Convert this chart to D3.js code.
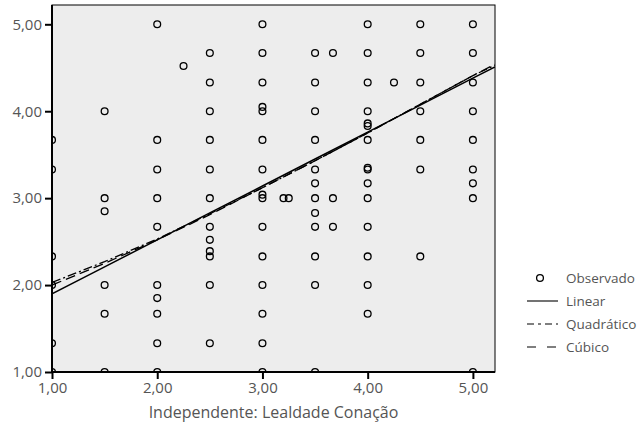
<!DOCTYPE html>
<html><head><meta charset="utf-8">
<script src="https://cdn.jsdelivr.net/npm/d3@7"></script>
<style>
body{margin:0;background:#fff;}
svg text{font-family:"Open Sans","Noto Sans",sans-serif;}
</style></head>
<body>
<svg id="c" width="643" height="429"></svg>
<script>
// Observed points: x values and y values (same order)
const obsX = [
 1,1,1,1,1,1,
 1.5,1.5,1.5,1.5,1.5,1.5,
 2,2,2,2,2,2,2,2,2,2,
 2.25,
 2.5,2.5,2.5,2.5,2.5,2.5,2.5,2.5,2.5,2.5,2.5,2.5,
 3,3,3,3,3,3,3,3,3,3,3,3,3,3,3,
 3.2,3.25,
 3.5,3.5,3.5,3.5,3.5,3.5,3.5,3.5,3.5,3.5,3.5,3.5,
 3.67,3.67,3.67,
 4,4,4,4,4,4,4,4,4,4,4,4,4,4,4,
 4.25,
 4.5,4.5,4.5,4.5,4.5,4.5,4.5,
 5,5,5,5,5,5,5,5,5
];
const obsY = [
 3.67,3.33,2.33,2.00,1.33,1.00,
 4.00,3.00,2.85,2.00,1.67,1.00,
 5.00,3.67,3.33,3.00,2.67,2.00,1.85,1.67,1.33,1.00,
 4.52,
 4.67,4.33,4.00,3.67,3.33,3.00,2.67,2.52,2.39,2.33,2.00,1.33,
 5.00,4.67,4.33,4.05,4.00,3.67,3.33,3.04,3.00,2.67,2.33,2.00,1.67,1.33,1.00,
 3.00,3.00,
 4.67,4.33,4.00,3.67,3.33,3.17,3.00,2.83,2.67,2.33,2.00,1.00,
 4.67,3.00,2.67,
 5.00,4.67,4.33,4.00,3.86,3.83,3.67,3.35,3.33,3.17,3.00,2.67,2.33,2.00,1.67,
 4.33,
 5.00,4.67,4.33,4.00,3.67,3.33,2.33,
 5.00,4.67,4.33,4.00,3.67,3.33,3.17,3.00,1.00
];
// Fitted curves
const fitX = [1, 1.5, 2, 2.5, 3, 3.5, 4, 4.5, 5, 5.21];
const linearY = [1.90, 2.21, 2.52, 2.83, 3.14, 3.45, 3.76, 4.07, 4.38, 4.51];
const quadY   = [2.03, 2.27, 2.53, 2.82, 3.12, 3.43, 3.75, 4.08, 4.41, 4.53];
const cubicY  = [2.00, 2.25, 2.52, 2.81, 3.12, 3.43, 3.75, 4.08, 4.41, 4.54];
const xTicks = [1, 2, 3, 4, 5];
const yTicks = [1, 2, 3, 4, 5];
const legendLabels = ["Observado", "Linear", "Quadrático", "Cúbico"];

const svg = d3.select("#c");
const L = 52, R = 495, T = 5, B = 372;
const x = d3.scaleLinear().domain([1, 5.21]).range([L, R]);
const y = d3.scaleLinear().domain([1, 5.222]).range([B, T]);
const fmt = d => d3.format(".2f")(d).replace(".", ",");

svg.append("defs").append("clipPath").attr("id", "clip")
  .append("rect").attr("x", L).attr("y", T).attr("width", R - L).attr("height", B - T);

svg.append("rect").attr("x", L).attr("y", T).attr("width", R - L).attr("height", B - T)
  .attr("fill", "#ededed").attr("stroke", "#000").attr("stroke-width", 1);

const plot = svg.append("g").attr("clip-path", "url(#clip)");

const pts = obsX.map((v, i) => [v, obsY[i]]);
plot.selectAll("circle.o").data(pts).enter().append("circle")
  .attr("cx", d => x(d[0])).attr("cy", d => y(d[1])).attr("r", 3.4)
  .attr("fill", "none").attr("stroke", "#000").attr("stroke-width", 1.3);

const line = d3.line().x(d => x(d[0])).y(d => y(d[1]));
const mk = arr => fitX.map((v, i) => [v, arr[i]]);
plot.append("path").attr("d", line(mk(cubicY))).attr("fill", "none")
  .attr("stroke", "#000").attr("stroke-width", 1.3).attr("stroke-dasharray", "10,5");
plot.append("path").attr("d", line(mk(quadY))).attr("fill", "none")
  .attr("stroke", "#000").attr("stroke-width", 1.3).attr("stroke-dasharray", "9,3,2,3");
plot.append("path").attr("d", line(mk(linearY))).attr("fill", "none")
  .attr("stroke", "#000").attr("stroke-width", 1.5);

const xa = svg.append("g").attr("transform", `translate(0,${B})`)
  .call(d3.axisBottom(x).tickValues(xTicks).tickFormat(fmt).tickSize(7).tickPadding(3));
const ya = svg.append("g").attr("transform", `translate(${L},0)`)
  .call(d3.axisLeft(y).tickValues(yTicks).tickFormat(fmt).tickSize(7).tickPadding(3));
[xa, ya].forEach(a => {
  a.select(".domain").attr("stroke", "#000").attr("stroke-width", 2);
  a.selectAll(".tick line").attr("stroke", "#000").attr("stroke-width", 2);
  a.selectAll(".tick text").attr("fill", "#555").style("font-size", "15px")
    .style("font-family", "'Open Sans','Noto Sans',sans-serif");
});
xa.select(".domain").attr("d", `M${L},0H${R}`);
ya.select(".domain").attr("d", `M0,${B}V${T}`);

svg.append("text").attr("x", (L + R) / 2).attr("y", 418).attr("text-anchor", "middle")
  .attr("fill", "#555").style("font-size", "16px").text("Independente: Lealdade Conação");

// Legend
const lg = svg.append("g");
const ly = [278, 301, 324, 347];
const dashes = [null, null, "7,4,3,4", "9,11"];
legendLabels.forEach((t, i) => {
  if (i === 0) {
    lg.append("circle").attr("cx", 540).attr("cy", ly[i]).attr("r", 3.4)
      .attr("fill", "none").attr("stroke", "#000").attr("stroke-width", 1.3);
  } else {
    const l = lg.append("line").attr("x1", 527).attr("x2", 558).attr("y1", ly[i]).attr("y2", ly[i])
      .attr("stroke", "#000").attr("stroke-width", 1.1);
    if (dashes[i]) l.attr("stroke-dasharray", dashes[i]);
  }
  lg.append("text").attr("x", 566).attr("y", ly[i]).attr("dy", "0.35em")
    .attr("fill", "#555").style("font-size", "13.5px").text(t);
});
</script>
</body></html>
